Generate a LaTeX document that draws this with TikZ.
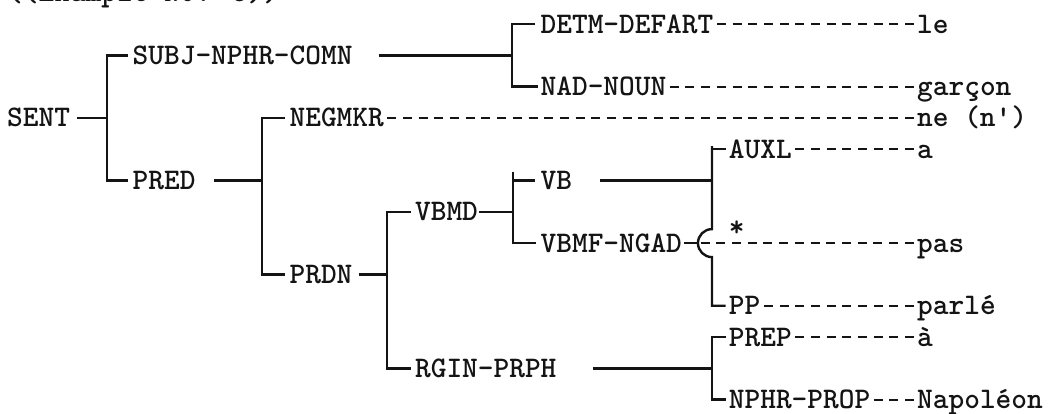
\documentclass[tikz,border=0pt]{standalone}
\usepackage{fontspec}
\usepackage{xcolor}
\newfontfamily\typeface{lmmonolt10-bold.otf}
\definecolor{TypeInk}{HTML}{141414}

\begin{document}
\begin{tikzpicture}[x=15.69pt,y=-31.3pt,
    typed/.style={anchor=west,inner sep=0pt,text height=18pt,text depth=0pt,
      text=TypeInk,font=\typeface\fontsize{29.9}{29.9}\selectfont},
    stem/.style={draw=TypeInk,line width=2.4pt},
    hyphens/.style={draw=TypeInk,line width=2.2pt,
      dash pattern=on 9pt off 6.69pt,
      shorten <=3.345pt,shorten >=3.345pt}]

        \useasboundingbox (-0.446,-0.767) rectangle (66.54,12.43);

        \node[typed] (title) at (0,-1) {((Example No. 5))};

        \node[typed] (sent) at (0,3) {SENT};
        \node[typed] (subj) at (8,1) {SUBJ-NPHR-COMN};
        \node[typed] (pred) at (8,5) {PRED};
        \node[typed] (detm) at (34,0) {DETM-DEFART};
        \node[typed] (nad) at (34,2) {NAD-NOUN};
        \node[typed] (negmkr) at (18,3) {NEGMKR};
        \node[typed] (prdn) at (18,8) {PRDN};
        \node[typed] (vbmd) at (26,6) {VBMD};
        \node[typed] (rgin) at (26,11) {RGIN-PRPH};
        \node[typed] (vb) at (34,5) {VB};
        \node[typed] (vbmf) at (34,7) {VBMF-NGAD};
        \node[typed] (auxl) at (46,4) {AUXL};
        \node[typed] (star) at (46,6.5) {*};
        \node[typed] (pp) at (46,9) {PP};
        \node[typed] (prep) at (46,10) {PREP};
        \node[typed] (nphr) at (46,12) {NPHR-PROP};

        \node[typed] (le) at (58,0) {le};
        \node[typed] (garcon) at (58,2) {garçon};
        \node[typed] (ne) at (58,3) {ne (n')};
        \node[typed] (a) at (58,4) {a};
        \node[typed] (pas) at (58,7) {pas};
        \node[typed] (parle) at (58,9) {parlé};
        \node[typed] (agrave) at (58,10) {à};
        \node[typed] (napoleon) at (58,12) {Napoléon};

        \coordinate (sentfork) at (6.37,0);
        \coordinate (subjfork) at (32.19,0);
        \coordinate (predfork) at (16.25,0);
        \coordinate (prdnfork) at (24.22,0);
        \coordinate (vbmdfork) at (32.25,0);
        \coordinate (vbfork) at (44.93,7);
        \coordinate (rginfork) at (44.93,0);
        \coordinate (hop) at (44,7);

        \draw[stem] ([xshift=7pt]sent.east) -- (sent.east -| sentfork);
        \draw[stem] ([xshift=-5pt]subj.west) -- (subj.west -| sentfork)
          -- (pred.west -| sentfork) -- ([xshift=-5pt]pred.west);

        \draw[stem] ([xshift=26pt]subj.east) -- (subj.east -| subjfork);
        \draw[stem] ([xshift=-5pt]detm.west) -- (detm.west -| subjfork)
          -- (nad.west -| subjfork) -- ([xshift=-2pt]nad.west);

        \draw[stem] ([xshift=18pt]pred.east) -- (pred.east -| predfork);
        \draw[stem] ([xshift=-4pt]negmkr.west) -- (negmkr.west -| predfork)
          -- (prdn.west -| predfork) -- ([xshift=-4pt]prdn.west);

        \draw[stem] ([xshift=6pt]prdn.east) -- (prdn.east -| prdnfork);
        \draw[stem] ([xshift=-4pt]vbmd.west) -- (vbmd.west -| prdnfork)
          -- (rgin.west -| prdnfork) -- ([xshift=-4pt]rgin.west);

        \draw[stem] ([xshift=1pt]vbmd.east) -- (vbmd.east -| vbmdfork);
        \draw[stem] (vb.west -| vbmdfork) ++(0,9pt) -- (vbmf.west -| vbmdfork)
          -- ([xshift=-4pt]vbmf.west);
        \draw[stem] (vb.west -| vbmdfork) -- ([xshift=-5pt]vb.west);

        \draw[stem] ([xshift=28pt]vb.east) -- (vb.east -| vbfork);
        \draw[stem] (auxl.west -| vbfork) ++(0,3pt) -- ([yshift=14pt]vbfork)
          arc[start angle=90,end angle=270,radius=14pt]
          -- (pp.west -| vbfork) -- ([xshift=-3pt]pp.west);
        \draw[stem] (auxl.west -| vbfork) -- ([xshift=-3pt]auxl.west);
        \draw[stem] ([xshift=2pt]vbmf.east) -- (hop);

        \draw[stem] ([xshift=36pt]rgin.east) -- (rgin.east -| rginfork);
        \draw[stem] ([xshift=-3pt]prep.west) -- (prep.west -| rginfork)
          -- (nphr.west -| rginfork) -- ([xshift=-3pt]nphr.west);

        \draw[hyphens] (detm.east) -- (le.west);
        \draw[hyphens] (nad.east) -- (garcon.west);
        \draw[hyphens] (negmkr.east) -- (ne.west);
        \draw[hyphens] (auxl.east) -- (a.west);
        \draw[hyphens] (hop) -- (pas.west);
        \draw[hyphens] (pp.east) -- (parle.west);
        \draw[hyphens] (prep.east) -- (agrave.west);
        \draw[hyphens] (nphr.east) -- (napoleon.west);

      \end{tikzpicture}
\end{document}
